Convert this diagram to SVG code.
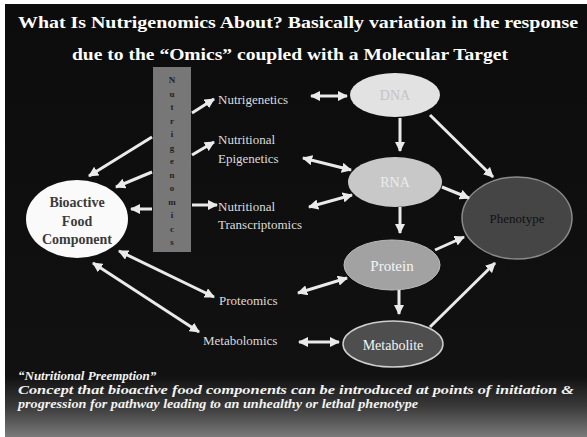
<svg xmlns="http://www.w3.org/2000/svg" width="587" height="437" viewBox="0 0 587 437">
  <defs>
    <linearGradient id="bg" x1="0" y1="0" x2="0" y2="1">
      <stop offset="0" stop-color="#0c0c0c"/>
      <stop offset="0.86" stop-color="#111"/>
      <stop offset="0.93" stop-color="#3a3a3a"/>
      <stop offset="1" stop-color="#7a7a7a"/>
    </linearGradient>
    <marker id="ah" viewBox="0 0 10 10" refX="9" refY="5" markerWidth="3.4" markerHeight="3.4" orient="auto-start-reverse" markerUnits="strokeWidth">
      <path d="M0,0 L10,5 L0,10 z" fill="#eaeaea"/>
    </marker>
  </defs>
  <style>
    text { font-family: "Liberation Serif", "DejaVu Serif", serif; }
    .title { font-weight: bold; font-size: 16px; fill: #fff; }
    .lbl { font-size: 13px; fill: #dcdcdc; }
    .ntxt { text-anchor: middle; }
    .conn line { stroke: #eaeaea; stroke-width: 3; fill: none; }
    .one { marker-end: url(#ah); }
    .two { marker-start: url(#ah); marker-end: url(#ah); }
    .bar { font-size: 9px; font-weight: bold; fill: #222; text-anchor: middle; }
    .foot { font-style: italic; font-weight: bold; font-size: 13px; fill: #f2f2f2; }
  </style>
  <rect x="0" y="0" width="587" height="437" fill="#fff"/>
  <rect x="5" y="4" width="582" height="433" fill="url(#bg)"/>

  <text class="title" font-family="Liberation Serif, serif" x="18" y="28" textLength="560" lengthAdjust="spacingAndGlyphs">What Is Nutrigenomics About?   Basically variation in the response</text>
  <text class="title" font-family="Liberation Serif, serif" x="72" y="60" textLength="436" lengthAdjust="spacingAndGlyphs">due to the “Omics” coupled with a Molecular Target</text>

  <g id="nutrigenomics-bar">
    <rect x="153" y="67" width="38" height="185" fill="#777"/>
    <text class="bar" x="172" y="83">N</text>
    <text class="bar" x="172" y="96.5">u</text>
    <text class="bar" x="172" y="110">t</text>
    <text class="bar" x="172" y="123.5">r</text>
    <text class="bar" x="172" y="137">i</text>
    <text class="bar" x="172" y="150.5">g</text>
    <text class="bar" x="172" y="164">e</text>
    <text class="bar" x="172" y="177.5">n</text>
    <text class="bar" x="172" y="191">o</text>
    <text class="bar" x="172" y="204.5">m</text>
    <text class="bar" x="172" y="218">i</text>
    <text class="bar" x="172" y="231.5">c</text>
    <text class="bar" x="172" y="245">s</text>
  </g>

  <g id="bioactive">
    <ellipse cx="77" cy="219" rx="51" ry="39" fill="#fafafa"/>
    <text class="ntxt" x="77" y="207" font-size="14" font-weight="bold" fill="#3a3a3a">Bioactive</text>
    <text class="ntxt" x="77" y="226" font-size="14" font-weight="bold" fill="#3a3a3a">Food</text>
    <text class="ntxt" x="77" y="244" font-size="14" font-weight="bold" fill="#3a3a3a">Component</text>
  </g>

  <g id="nutrigenetics"><text class="lbl" x="218" y="104">Nutrigenetics</text></g>
  <g id="epigenetics"><text class="lbl" x="218" y="144">Nutritional</text><text class="lbl" x="218" y="163">Epigenetics</text></g>
  <g id="transcriptomics"><text class="lbl" x="218" y="211">Nutritional</text><text class="lbl" x="218" y="229">Transcriptomics</text></g>
  <g id="proteomics"><text class="lbl" x="219" y="305">Proteomics</text></g>
  <g id="metabolomics"><text class="lbl" x="203" y="345">Metabolomics</text></g>

  <g id="dna">
    <ellipse cx="395" cy="95" rx="45" ry="22" fill="#e2e2e2"/>
    <text class="ntxt" x="395" y="100" font-size="14" fill="#c4c4c4">DNA</text>
  </g>
  <g id="rna">
    <ellipse cx="395" cy="182" rx="47" ry="25" fill="#c8c8c8"/>
    <text class="ntxt" x="395" y="187" font-size="14" fill="#ececec">RNA</text>
  </g>
  <g id="protein">
    <ellipse cx="392" cy="265" rx="48" ry="25" fill="#a2a2a2" stroke="#bbb" stroke-width="1"/>
    <text class="ntxt" x="392" y="271" font-size="15" fill="#f4f4f4">Protein</text>
  </g>
  <g id="metabolite">
    <ellipse cx="393" cy="344" rx="50" ry="23" fill="#4e4e4e" stroke="#cfcfcf" stroke-width="1.5"/>
    <text class="ntxt" x="393" y="350" font-size="14" fill="#f4f4f4">Metabolite</text>
  </g>
  <g id="phenotype">
    <ellipse cx="517" cy="218" rx="55" ry="41" fill="#454545" stroke="#8a8a8a" stroke-width="1.5"/>
    <text class="ntxt" x="517" y="223" font-size="13" fill="#111">Phenotype</text>
  </g>

  <g id="connectors" class="conn">
    <line class="one" x1="192" y1="113" x2="214" y2="99"/>
    <line class="one" x1="192" y1="155" x2="214" y2="142"/>
    <line class="one" x1="192" y1="205" x2="217" y2="205"/>
    <line class="one" x1="152" y1="137" x2="89" y2="176"/>
    <line class="one" x1="152" y1="172" x2="116" y2="187"/>
    <line class="one" x1="152" y1="209" x2="131" y2="209"/>
    <line class="two" x1="119" y1="251" x2="214" y2="297"/>
    <line class="two" x1="93" y1="263" x2="199" y2="332"/>
    <line class="two" x1="311" y1="96" x2="347" y2="96"/>
    <line class="two" x1="303" y1="158" x2="351" y2="170"/>
    <line class="two" x1="309" y1="207" x2="352" y2="195"/>
    <line class="two" x1="298" y1="293" x2="347" y2="278"/>
    <line class="two" x1="299" y1="342" x2="339" y2="342"/>
    <line class="one" x1="400" y1="118" x2="400" y2="151"/>
    <line class="one" x1="400" y1="207" x2="400" y2="233"/>
    <line class="one" x1="399" y1="290" x2="399" y2="314"/>
    <line class="one" x1="430" y1="115" x2="493" y2="177"/>
    <line class="one" x1="442" y1="187" x2="469" y2="198"/>
    <line class="one" x1="435" y1="250" x2="464" y2="237"/>
    <line class="one" x1="430" y1="327" x2="495" y2="263"/>
  </g>

  <text class="foot" x="18" y="380">“Nutritional Preemption”</text>
  <text class="foot" x="18" y="394" textLength="556" lengthAdjust="spacingAndGlyphs">Concept that bioactive food components can be introduced at points of initiation &amp;</text>
  <text class="foot" x="18" y="408" textLength="400" lengthAdjust="spacingAndGlyphs">progression for pathway leading to an unhealthy or lethal phenotype</text>
</svg>
